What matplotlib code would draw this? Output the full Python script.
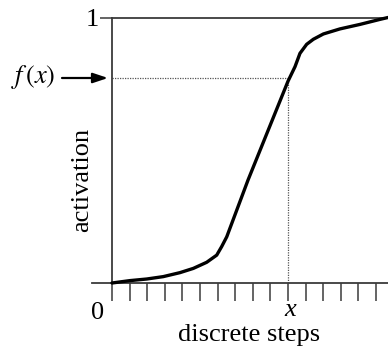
import matplotlib
matplotlib.use("Agg")
import matplotlib.pyplot as plt

# data
steps = [0, 1.02, 1.97, 2.91, 3.86, 4.62, 5.38, 5.95, 6.23, 6.52, 7.73, 10.0,
         10.40, 10.68, 11.06, 11.44, 12.01, 12.95, 14.09, 15.23, 15.68]
activation = [0, 0.009, 0.015, 0.024, 0.039, 0.055, 0.078, 0.105, 0.137, 0.174, 0.388, 0.76,
              0.815, 0.865, 0.899, 0.918, 0.938, 0.957, 0.974, 0.993, 1.0]
tick_steps = list(range(16))
x_mark = 10
fx_level = 0.773

plt.rcParams['font.family'] = ['Liberation Serif', 'DejaVu Serif']
plt.rcParams['mathtext.fontset'] = 'stix'

W, H = 388, 354
fig = plt.figure(figsize=(W/100, H/100), dpi=100)

px_per_step = 17.6
x0_px, y0_px, y1_px = 112, 283, 17.5
left_px = 92
xmin = -(x0_px - left_px) / px_per_step
xmax = (W - x0_px) / px_per_step
ax = fig.add_axes([left_px/W, (H - y0_px)/H, (W - left_px)/W, (y0_px - y1_px)/H])
ax.set_xlim(xmin, xmax)
ax.set_ylim(0, 1)

axc = '#3a3a3a'
for s in ['left', 'bottom', 'top']:
    ax.spines[s].set_color(axc)
    ax.spines[s].set_linewidth(1.3)
ax.spines['right'].set_visible(False)
ax.spines['left'].set_position(('data', 0))
ax.spines['top'].set_bounds(0, xmax)

ax.set_xticks(tick_steps)
ax.set_xticklabels([])
ax.tick_params(axis='x', direction='out', length=13, width=1.1, color=axc)
ax.set_yticks([1])
ax.set_yticklabels([])
ax.tick_params(axis='y', direction='out', length=8.6, width=1.1, color=axc)

ax.plot(steps, activation, color='black', lw=2.4, solid_joinstyle='round',
        solid_capstyle='round', clip_on=False, zorder=5)

ax.plot([0, x_mark], [fx_level, fx_level], color='#555555', lw=0.9, ls=(0, (1, 1)))
ax.plot([x_mark, x_mark], [0, fx_level], color='#555555', lw=0.9, ls=(0, (1, 1)))

fs = 19
def fig_text(px, py, s, **kw):
    fig.text(px/W, 1 - py/H, s, fontsize=fs, ha='center', va='center', **kw)

fig_text(92, 20, '1')
fig_text(98, 313, '0')
fig_text(290, 310, 'x', style='italic')
fig_text(249, 335, 'discrete steps')
fig_text(82, 180, 'activation', rotation=90)
fig_text(33, 77, r'$f\,(x)$')

ax.annotate('', xy=(108/W, 1 - 78/H), xytext=(62/W, 1 - 78/H),
            xycoords='figure fraction', textcoords='figure fraction',
            arrowprops=dict(arrowstyle='-|>,head_length=0.9,head_width=0.3',
                            color='black', lw=1.6, shrinkA=0, shrinkB=0))

fig.savefig('out.png', dpi=100)
